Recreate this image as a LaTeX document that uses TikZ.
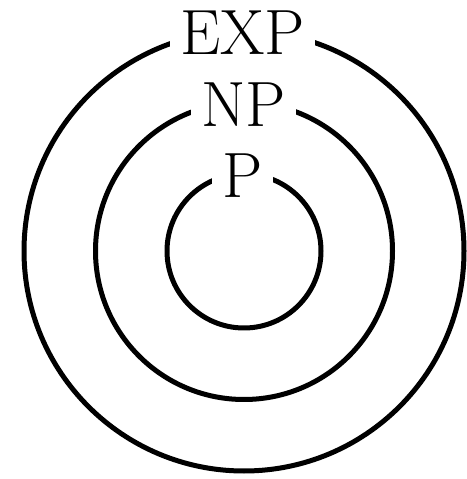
\documentclass[tikz,border=0pt]{standalone}
\begin{document}
\begin{tikzpicture}[x=1pt,y=1pt,
  ring/.style={line width=5pt},
  lab/.style={fill=white,inner xsep=10pt,inner ysep=3pt,anchor=base,font=\fontsize{64}{64}\selectfont}]
\useasboundingbox (0,0) rectangle (466,479);
\coordinate (c) at (244,228);
\draw[ring] (c) circle[radius=220];
\draw[ring] (c) circle[radius=148.5];
\draw[ring] (c) circle[radius=77];
\node[lab] (exp) at (242.5,424) {EXP};
\node[lab] (np) at (243.5,352) {NP};
\node[lab] (p) at (242.5,281) {P};
\end{tikzpicture}
\end{document}
